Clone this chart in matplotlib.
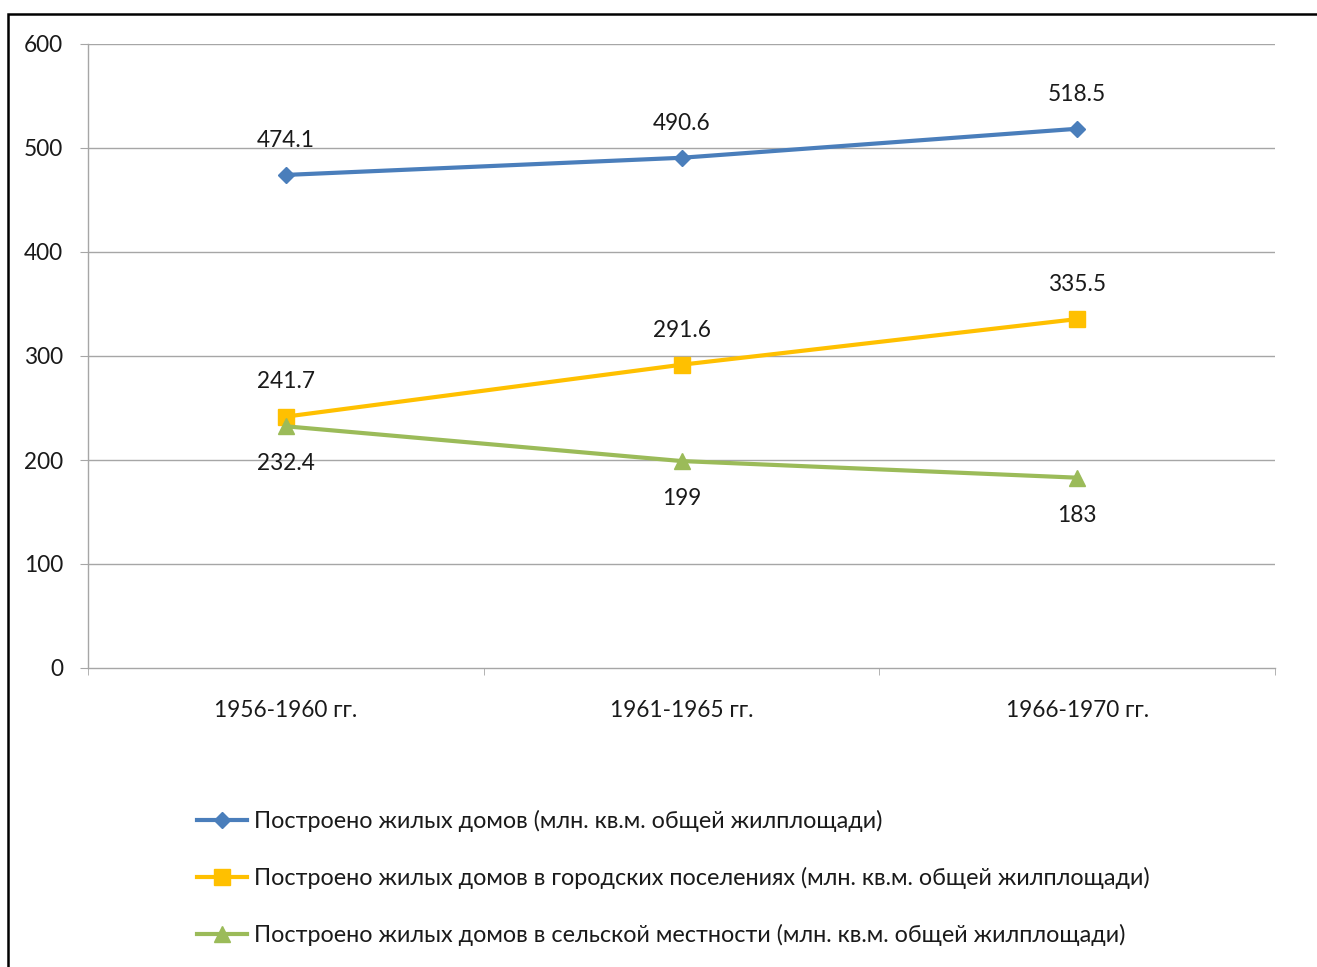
import matplotlib
matplotlib.use("Agg")
import matplotlib.pyplot as plt
from matplotlib.patches import Rectangle

plt.rcParams['font.family'] = ['Lato', 'DejaVu Sans']

periods = ["1956-1960 гг.", "1961-1965 гг.", "1966-1970 гг."]
total = [474.1, 490.6, 518.5]
urban = [241.7, 291.6, 335.5]
rural = [232.4, 199, 183]
series_names = [
    "Построено жилых домов (млн. кв.м. общей жилплощади)",
    "Построено жилых домов в городских поселениях (млн. кв.м. общей жилплощади)",
    "Построено жилых домов в сельской местности (млн. кв.м. общей жилплощади)",
]
y_ticks = [0, 100, 200, 300, 400, 500, 600]

W, H = 1317, 967
FS = 16.3
fig = plt.figure(figsize=(W / 100, H / 100), dpi=100)

# outer chart frame (clipped by the figure on the right and bottom)
fig.patches.append(Rectangle((8 / W, -0.1), 1.2, 1 - 14 / H + 0.1,
                             transform=fig.transFigure, fill=False,
                             edgecolor="black", linewidth=1.8))

ax = fig.add_axes([88 / W, 1 - 668 / H, (1275 - 88) / W, (668 - 44) / H])

x = list(range(len(periods)))
grid_c = "#a6a6a6"
text_c = "#1a1a1a"

for v in y_ticks[1:]:
    ax.axhline(v, color=grid_c, linewidth=1.0, zorder=0)

ax.set_xlim(-0.5, len(periods) - 0.5)
ax.set_ylim(0, 600)
for s in ["top", "right"]:
    ax.spines[s].set_visible(False)
for s in ["left", "bottom"]:
    ax.spines[s].set_color(grid_c)
    ax.spines[s].set_linewidth(1.0)

ax.set_yticks(y_ticks)
ax.tick_params(axis="y", length=6, color=grid_c, labelsize=FS, pad=12,
               labelcolor=text_c)
ax.set_xticks(x)
ax.set_xticklabels(periods)
ax.tick_params(axis="x", which="major", length=0, labelsize=FS, pad=23,
               labelcolor=text_c)
ax.set_xticks([i - 0.5 for i in range(len(periods) + 1)], minor=True)
ax.tick_params(axis="x", which="minor", length=5, color=grid_c)

blue, orange, green = "#4a7ebb", "#ffc000", "#9bbb59"
l1, = ax.plot(x, total, color=blue, linewidth=3, marker="D", markersize=8.5,
              label=series_names[0], zorder=3)
l2, = ax.plot(x, urban, color=orange, linewidth=3, marker="s", markersize=11,
              label=series_names[1], zorder=3)
l3, = ax.plot(x, rural, color=green, linewidth=3, marker="^", markersize=11,
              label=series_names[2], zorder=4)

for xs, ys, dy in [(x, total, 25), (x, urban, 25), (x, rural, -27)]:
    for xi, yi in zip(xs, ys):
        ax.annotate(f"{yi:g}", (xi, yi), xytext=(0, dy), textcoords="offset points",
                    ha="center", va="center", fontsize=FS, color=text_c)

fig.legend(handles=[l1, l2, l3], loc="upper left",
           bbox_to_anchor=(197 / W, 1 - 810 / H), frameon=False,
           fontsize=16.8, handlelength=2.15, handletextpad=0.3,
           labelspacing=1.49, borderaxespad=0, borderpad=0,
           labelcolor=text_c)

fig.savefig("out.png", dpi=100, facecolor="white")
